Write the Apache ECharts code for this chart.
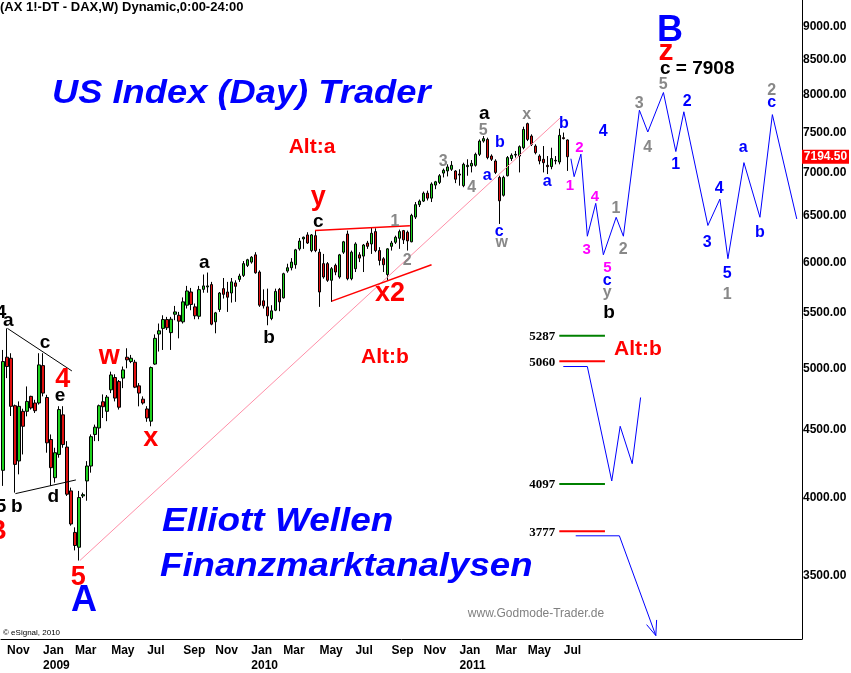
<!DOCTYPE html>
<html><head><meta charset="utf-8">
<script src="https://cdn.jsdelivr.net/npm/echarts@6/dist/echarts.min.js"></script>
<style>html,body{margin:0;padding:0;background:#fff}#c{width:851px;height:673px}</style>
</head><body><div id="c"></div>
<script>
// ---------- DATA ----------
const weekStart = [2008, 9, 27];   // Monday of first weekly bar (27 Oct 2008)
const weekCount = 200;             // weekly slots on the axis (incl. future space)
const monthNames = ['Jan','Feb','Mar','Apr','May','Jun','Jul','Aug','Sep','Oct','Nov','Dec'];

const opens = [4195,5096,5087,4688,4263,4643,4643,4764,4710,4710,
5023,4755,4423,4142,4311,4615,4366,4049,3770,3675,
4014,4119,4226,4462,4512,4720,4643,4818,4921,4887,
4916,5096,5058,5052,4851,4741,4662,4565,5036,5303,
5355,5437,5316,5487,5477,5416,5573,5701,5557,5468,
5727,5751,5774,5416,5532,5734,5701,5691,5791,5826,
5866,5968,6002,6077,5900,5615,5557,5447,5525,5727,
5644,5910,5944,5975,6140,6246,6289,6122,6281,6105,
5986,5986,5817,5968,5850,6105,6299,5833,5934,6077,
6064,6202,6192,6325,6122,6036,5875,6167,6210,6253,
6336,6318,6215,6485,6625,6666,6757,6700,6852,6884,
6995,7021,7041,7020,6983,6845,7073,7081,7089,7224,
7391,7412,7203,7142,6943,6733,6963,7172,7215,7203,
7307,7616,7455,7328,7203,7163,7089,7073,7142,7130,
7434,7405];
const closes = [5058,5015,4683,4238,4683,4525,4723,4670,4648,5029,
4791,4398,4214,4324,4657,4385,4026,3825,3686,4003,
4023,4226,4445,4518,4688,4680,4758,4943,4750,4676,
4986,5073,5087,4840,4791,4710,4590,5006,5264,5333,
5437,5361,5440,5509,5422,5605,5711,5580,5472,5724,
5761,5761,5394,5500,5691,5678,5650,5801,5757,5860,
5986,6026,6053,5893,5573,5567,5472,5519,5707,5605,
5883,5944,6002,6130,6223,6264,6202,6289,6122,5701,
5850,5817,5934,5900,6077,6215,5833,6105,6192,6043,
6181,6167,6307,6122,6019,5975,6140,6202,6264,6325,
6236,6225,6504,6625,6666,6757,6700,6864,6891,6963,
7029,7069,7089,6922,6971,7101,7089,7113,7224,7391,
7422,7184,7163,7003,6669,6943,7184,7212,7224,7320,
7540,7412,7350,7245,7142,7121,7073,7172,7150,7464,
7422,7194.5];
const lows = [4084,4916,4606,4037,4166,4311,4603,4657,4630,4697,
4764,4324,4084,4107,4287,4361,4014,3814,3655,3592,
4000,3981,4178,4411,4411,4590,4565,4791,4723,4657,
4832,5000,5044,4832,4683,4697,4560,4525,5029,5146,
5160,5340,5160,5431,5264,5400,5541,5525,5440,5440,
5694,5694,5384,5310,5509,5637,5509,5598,5605,5801,
5850,5951,5986,5883,5557,5541,5384,5431,5516,5516,
5637,5893,5917,5934,6122,6140,6192,6105,6105,5557,
5833,5801,5605,5868,5833,6087,5817,5817,5900,6002,
5900,6140,6087,6105,5968,5900,5817,6122,6192,6140,
6192,6122,6210,6464,6598,6655,6673,6655,6804,6864,
6943,6955,7021,6875,6845,6827,6963,7003,7073,7203,
7371,7163,7142,6983,6409,6718,6955,7142,7184,7003,
7287,7391,7328,7224,7101,7003,6983,7041,7101,7101,
7412,7021];
const highs = [5160,5355,5131,4697,4723,4664,4846,4769,4736,5131,
5131,4777,4462,4361,4684,4684,4411,4072,3803,4049,
4037,4262,4462,4538,4697,4780,4775,4971,4949,4900,
5015,5175,5116,5073,4874,4764,4684,5015,5300,5400,
5477,5462,5462,5566,5509,5648,5761,5741,5589,5761,
5875,5895,5801,5509,5701,5840,5801,5840,5817,5883,
6013,6036,6064,6105,5917,5727,5734,5573,5734,5741,
5893,5985,6043,6140,6256,6271,6318,6299,6336,6140,
6087,6002,5951,5986,6087,6225,6336,6122,6210,6105,
6192,6225,6372,6361,6158,6053,6147,6225,6281,6347,
6343,6336,6522,6655,6684,6776,6787,6884,6902,6983,
7049,7101,7141,7030,7041,7121,7163,7154,7245,7412,
7455,7434,7224,7163,6963,6963,7203,7236,7266,7336,
7576,7629,7477,7350,7224,7328,7203,7307,7203,7550,
7500,7412];

const yTicks = [3500,4000,4500,5000,5500,6000,6500,7000,7500,8000,8500,9000];
const yRange = [3138.4, 9420.9];
const lastPrice = 7194.50;

// trend / pattern lines (x = week index, y = price)
const trendX = [19.2, 139.1],  trendY = [3592, 7690];
const triUpX = [1.1, 17.2],    triUpY = [5355, 4977];
const triLoX = [3.1, 18.2],    triLoY = [4030, 4126];
const redUpX = [77.9, 101.6],  redUpY = [6336, 6390];
const redLoX = [82.1, 107.0],  redLoY = [5612, 5975];

// projected paths
const projX = [141.8,142.6,144.3,145.9,148.0,149.9,153.1,154.9,158.9,161.0,164.9,168.0,170.0,176.0,179.0,181.0,185.0,189.0,192.1,198.2];
const projY = [7170,6952,7226,6275,6640,6078,6483,6275,7794,7507,8035,7259,7773,6392,6689,6037,7122,6483,7735,6464];
const altX = [139.9,145.9,152.0,154.1,157.1,159.2];
const altY = [5015,5015,4119,4525,4243,4755];
const arrowX = [143.0,153.9,163.0];
const arrowY = [3748,3748,3157];
const headAX = [160.7,163.0], headAY = [3217,3157];
const headBX = [163.2,163.0], headBY = [3243,3157];

// horizontal levels
const levelValues = [5287, 5060, 4097, 3777];
const levelX = [138.9, 150.3];

// ---------- BUILD ----------
const LG = Math.log10;
const FF = 'Arial, "Liberation Sans", sans-serif';
const levelColors = ['#008000','#ff0000','#008000','#ff0000'];

const t0 = Date.UTC(weekStart[0], weekStart[1], weekStart[2]);
const weeks = [];
for (let k = 0; k < weekCount; k++) weeks.push(new Date(t0 + k * 7 * 86400000));
const categories = weeks.map(d => d.toISOString().slice(0, 10));

function showLabel(i) {
  if (i >= opens.length) return false;
  const d = weeks[i];
  return d.getUTCDate() <= 7 && d.getUTCMonth() % 2 === 0;
}

const candleData = opens.map((o, i) => [LG(o), LG(closes[i]), LG(lows[i]), LG(highs[i])]);
const pts = (xs, ys) => xs.map((x, i) => [x, LG(ys[i])]);

function lineSeries(data, color, width) {
  return { type: 'line', xAxisIndex: 1, yAxisIndex: 0, data, symbol: 'none', silent: true,
    animation: false, lineStyle: { color, width }, z: 3 };
}

const series = [
  { type: 'candlestick', xAxisIndex: 0, yAxisIndex: 0, data: candleData, barWidth: 3, silent: true,
    animation: false, z: 2,
    itemStyle: { color: '#1ed21e', color0: '#e01010', borderColor: '#000', borderColor0: '#000', borderWidth: 1 } },
  lineSeries(pts(trendX, trendY), '#ff8fa8', 1),
  lineSeries(pts(triUpX, triUpY), '#000', 1),
  lineSeries(pts(triLoX, triLoY), '#000', 1),
  lineSeries(pts(redUpX, redUpY), '#ff0000', 1.5),
  lineSeries(pts(redLoX, redLoY), '#ff0000', 1.5),
  lineSeries(pts(projX, projY), '#0000ff', 1),
  lineSeries(pts(altX, altY), '#0000ff', 1),
  lineSeries(pts(arrowX, arrowY), '#0000ff', 1),
  lineSeries(pts(headAX, headAY), '#0000ff', 1),
  lineSeries(pts(headBX, headBY), '#0000ff', 1)
];
levelValues.forEach((v, i) => series.push(lineSeries(pts(levelX, [v, v]), levelColors[i], 2)));

const chart = echarts.init(document.getElementById('c'), null, { renderer: 'canvas' });
chart.setOption({
  animation: false,
  backgroundColor: '#fff',
  grid: { left: 1, right: 49, top: 0, bottom: 31, containLabel: false },
  xAxis: [
    { type: 'category', data: categories, boundaryGap: true,
      axisLine: { show: true, onZero: false, lineStyle: { color: '#000', width: 1 } },
      axisTick: { show: false }, splitLine: { show: false },
      axisLabel: {
        interval: (idx) => showLabel(idx),
        formatter: (val) => {
          const d = new Date(val + 'T00:00:00Z');
          const m = monthNames[d.getUTCMonth()];
          return d.getUTCMonth() === 0 ? m + '\n' + d.getUTCFullYear() : m;
        },
        align: 'left', margin: 4, color: '#000', fontWeight: 'bold', fontSize: 12,
        fontFamily: FF, lineHeight: 15
      } },
    { type: 'value', min: -0.5, max: weekCount - 0.5, show: false }
  ],
  yAxis: [{
    type: 'value', position: 'right', min: LG(yRange[0]), max: LG(yRange[1]),
    axisLine: { show: true, onZero: false, lineStyle: { color: '#000', width: 1 } },
    axisTick: { show: false }, splitLine: { show: false },
    axisLabel: { customValues: yTicks.map(LG), formatter: v => Math.pow(10, v).toFixed(2),
      margin: 1, color: '#000', fontWeight: 'bold', fontSize: 12, fontFamily: FF }
  }],
  series
});

// ---------- ANNOTATIONS ----------
const styles = {
  blk: ['bold 19px ' + FF, '#000'],
  gry: ['bold 16px ' + FF, '#888888'],
  blu: ['bold 16px ' + FF, '#0000ff'],
  mag: ['bold 15px ' + FF, '#ff00ff'],
  red: ['bold 27px ' + FF, '#ff0000'],
  alt: ['bold 21px ' + FF, '#ff0000'],
  big: ['bold 36px ' + FF, '#0000ff'],
  z:   ['bold 30px ' + FF, '#ff0000']
};
const labels = [
  ['4',1,313,'blk'],['a',8.3,320.5,'blk'],['c',45,343,'blk'],['e',60,395.5,'blk'],['5',1,507,'blk'],
  ['b',16.7,507,'blk'],['d',53.3,497,'blk'],['a',204.3,262.5,'blk'],['b',269,338,'blk'],
  ['c',318.3,221.5,'blk'],['a',484.3,114,'blk'],['b',609,313,'blk'],
  ['4',62.7,379.7,'red'],['w',109.3,357,'red'],['x',150.7,438.5,'red'],['5',78.3,578,'red'],
  ['B',-3,531.7,'red'],['y',318.3,197.5,'red'],['x2',390,294,'red'],
  ['Alt:a',312,147,'alt'],['Alt:b',385,357,'alt'],['Alt:b',638,349.3,'alt'],
  ['1',395,221.7,'gry'],['2',407.3,260.7,'gry'],['3',443.3,161.7,'gry'],['4',471.7,187.3,'gry'],
  ['5',483.3,131,'gry'],['x',526.7,114.5,'gry'],['w',501.7,242.5,'gry'],['1',616,208.3,'gry'],
  ['2',623.3,250,'gry'],['3',639.3,103.3,'gry'],['4',647.7,147.3,'gry'],['5',663.3,85,'gry'],
  ['1',727.3,295,'gry'],['2',771.7,90.7,'gry'],['y',607.3,293,'gry'],
  ['b',500,142.7,'blu'],['a',487.3,176,'blu'],['c',499.3,231.5,'blu'],['a',547.3,182,'blu'],
  ['b',564,124,'blu'],['4',603.3,131.7,'blu'],['c',607.3,280.5,'blu'],['2',687.3,101.7,'blu'],
  ['1',675.7,165,'blu'],['3',707.3,242.7,'blu'],['4',719.3,188.3,'blu'],['5',727.3,274,'blu'],
  ['a',743.3,148,'blu'],['b',760,232.7,'blu'],['c',771.7,102.5,'blu'],
  ['2',579.5,147.5,'mag'],['1',570,186,'mag'],['3',586.7,250.3,'mag'],['4',595,197,'mag'],['5',607.3,268.3,'mag'],
  ['A',84,601,'big'],['B',670,31,'big'],['z',666,52,'z']
];

function txt(x, y, text, font, fill, align, extra) {
  return Object.assign({ type: 'text', x, y, silent: true, z: 100,
    style: { text, font, fill, align: align || 'center', textAlign: align || 'center',
      verticalAlign: 'middle', textVerticalAlign: 'middle' } }, extra || {});
}

const graphics = [];
labels.forEach(l => graphics.push(txt(l[1], l[2], l[0], styles[l[3]][0], styles[l[3]][1])));
graphics.push(txt(660, 68.5, 'c = 7908', 'bold 19px ' + FF, '#000', 'left'));
graphics.push(txt(0, 7, '(AX 1!-DT - DAX,W) Dynamic,0:00-24:00', 'bold 13px ' + FF, '#000', 'left'));
const titleFont = 'italic bold 33px ' + FF;
graphics.push(txt(52, 94, 'US Index (Day) Trader', titleFont, '#0000ff', 'left', { scaleX: 1.1 }));
graphics.push(txt(162, 521.5, 'Elliott Wellen', titleFont, '#0000ff', 'left', { scaleX: 1.12 }));
graphics.push(txt(160, 566.5, 'Finanzmarktanalysen', titleFont, '#0000ff', 'left', { scaleX: 1.11 }));
graphics.push(txt(536, 614, 'www.Godmode-Trader.de', '12px ' + FF, '#808080', 'center'));
graphics.push(txt(3, 633, '\u00a9 eSignal, 2010', '8px ' + FF, '#000', 'left'));

// level value labels
const lvlLabelX = chart.convertToPixel({ xAxisIndex: 1 }, levelX[0]) - 4;
levelValues.forEach(v => {
  const py = chart.convertToPixel({ yAxisIndex: 0 }, LG(v));
  graphics.push(txt(lvlLabelX, py + 1, String(v), 'bold 13px "Liberation Serif", "Times New Roman", serif', '#000', 'right'));
});

// last price box
const lpY = chart.convertToPixel({ yAxisIndex: 0 }, LG(lastPrice));
graphics.push({ type: 'rect', shape: { x: 802, y: lpY - 7, width: 47, height: 14 }, style: { fill: '#ff0000' }, silent: true, z: 100 });
graphics.push(txt(825.5, lpY, lastPrice.toFixed(2), 'bold 12px ' + FF, '#fff', 'center', { z: 101 }));

chart.setOption({ graphic: graphics });
</script>
</body></html>
